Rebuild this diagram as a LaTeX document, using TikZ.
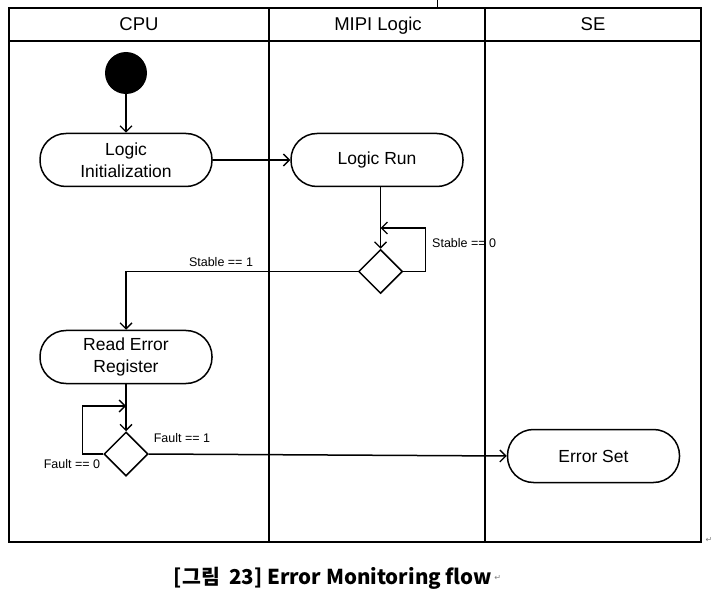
\documentclass[tikz,border=0pt]{standalone}
\usepackage{fontspec}
\setmainfont{Liberation Sans}
\newfontfamily\kr{Noto Sans CJK KR}
\newfontfamily\dvs{DejaVu Sans}
\usetikzlibrary{arrows.meta,shapes.geometric,calc}
\tikzset{
  lane/.style={line width=1.6pt},
  act/.style={draw,line width=1.5pt,rectangle,rounded corners=26pt,minimum width=172pt,minimum height=53pt,align=center,font=\fontsize{17.5}{22}\selectfont,inner sep=0pt},
  dec/.style={draw,line width=1.5pt,diamond,aspect=1,minimum width=44pt,minimum height=44pt,inner sep=0pt},
  arr/.style={line width=1.5pt,-{Straight Barb[length=6pt,width=12pt,line width=1.3pt]}},
  lbl/.style={font=\fontsize{12.5}{14}\selectfont,inner sep=0pt},
  hdr/.style={font=\fontsize{18.5}{20}\selectfont,inner sep=0pt,anchor=base},
  pmark/.style={font=\dvs\fontsize{8}{9}\selectfont,text=gray,inner sep=0pt}
}
\begin{document}
\begin{tikzpicture}[x=1pt,y=-1pt]
\useasboundingbox (0,0) rectangle (716,607);
% table
\draw[lane] (9,8) rectangle (701,542);
\draw[line width=2.4pt] (9,41) -- (701,41);
\draw[lane] (269,8) -- (269,542);
\draw[lane] (485,8) -- (485,542);
\draw[line width=0.8pt] (437,0) -- (437,7);
\node[hdr] (hcpu) at (139,31) {CPU};
\node[hdr] (hmipi) at (378,31) {MIPI Logic};
\node[hdr] (hse) at (593,31) {SE};
% nodes
\node[circle,fill=black,minimum size=42pt,inner sep=0pt] (start) at (126,73) {};
\node[act] (init) at (126,160) {Logic\\Initialization};
\node[act] (run) at (377,160) {Logic Run};
\node[dec] (d1) at (380.5,271.5) {};
\node[act] (readerr) at (126,357) {Read Error\\Register};
\node[dec] (d2) at (126,454) {};
\node[act] (errset) at (593.5,456) {Error Set};
\coordinate (l1) at (380.5,228);
\coordinate (l2) at (126,406);
% connectors
\draw[arr] (start) -- (init);
\draw[arr] (init) -- (run);
\draw[line width=1.5pt] (d1.north |- run.south) -- (l1);
\draw[arr] (l1) -- (d1.north);
\draw[arr] (d1.east) -- ++(22,0) |- (l1);
\draw[arr] (d1.west) -| (readerr.north);
\draw[line width=1.5pt] (readerr.south) -- (l2);
\draw[arr] (l2) -- (d2.north);
\draw[arr] (d2.west) -- ++(-21,0) |- (l2);
\draw[arr] (d2.east) -- (errset.west);
% labels
\node[lbl,anchor=west] (s0) at (432,243) {Stable == 0};
\node[lbl] (s1) at (221,262) {Stable == 1};
\node[lbl] (f1) at (182,438) {Fault == 1};
\node[lbl] (f0) at (72,464) {Fault == 0};
% caption
\node[font=\kr\bfseries\fontsize{20.5}{22}\selectfont,inner sep=0pt] (cap) at (333,578) {[그림\ \ 23] Error Monitoring flow};
\node[pmark,anchor=west] (pm1) at ([xshift=2pt]cap.east) {↵};
\node[pmark] (pm2) at (709,540) {↵};
\end{tikzpicture}
\end{document}
